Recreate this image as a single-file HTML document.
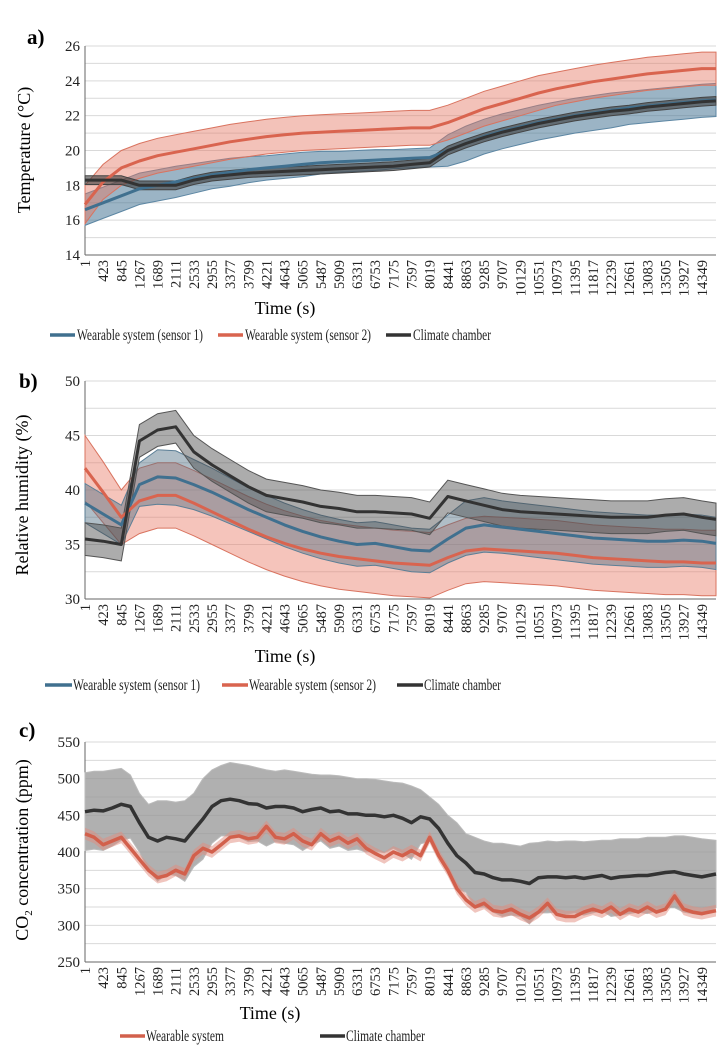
<!DOCTYPE html>
<html><head><meta charset="utf-8">
<style>
body{margin:0;background:#fff;}
svg{display:block;font-family:"Liberation Serif",serif;}
</style></head>
<body>
<svg id="fig" width="728" height="1047" viewBox="0 0 728 1047"></svg>
<script>
// ---------- DATA ----------
const timesAB = [1,423,845,1267,1689,2111,2533,2955,3377,3799,4221,4643,5065,5487,5909,6331,6753,7175,7597,8019,8441,8863,9285,9707,10129,10551,10973,11395,11817,12239,12661,13083,13505,13927,14349,14680];
const tickLabels = [1,423,845,1267,1689,2111,2533,2955,3377,3799,4221,4643,5065,5487,5909,6331,6753,7175,7597,8019,8441,8863,9285,9707,10129,10551,10973,11395,11817,12239,12661,13083,13505,13927,14349];

const tempS1 = [16.6,17.0,17.4,17.8,18.0,18.2,18.4,18.6,18.75,18.9,19.0,19.1,19.2,19.3,19.35,19.4,19.45,19.5,19.55,19.6,20.0,20.4,20.8,21.1,21.35,21.6,21.8,22.0,22.15,22.3,22.45,22.55,22.65,22.75,22.85,22.9];
const tempS1sd = [0.9,0.9,0.9,0.9,0.9,0.9,0.85,0.8,0.8,0.75,0.7,0.7,0.7,0.65,0.6,0.6,0.6,0.55,0.55,0.55,0.9,1.0,1.0,1.0,1.0,1.0,1.0,1.0,1.0,1.0,0.95,0.95,0.95,0.95,0.95,0.95];
const tempS2 = [16.9,18.2,19.0,19.4,19.7,19.9,20.1,20.3,20.5,20.65,20.8,20.9,21.0,21.05,21.1,21.15,21.2,21.25,21.3,21.3,21.6,22.0,22.4,22.7,23.0,23.3,23.55,23.75,23.95,24.1,24.25,24.4,24.5,24.6,24.7,24.7];
const tempS2sd = [1.1,1.0,1.0,1.0,1.0,1.0,1.0,1.0,1.0,1.0,1.0,1.0,1.0,1.0,1.0,1.0,1.0,1.0,1.0,1.0,1.0,1.0,1.0,1.0,1.0,1.0,0.95,0.95,0.95,0.95,0.95,0.95,0.95,0.95,0.95,0.95];
const tempCC = [18.3,18.3,18.3,18.0,18.0,18.0,18.3,18.5,18.6,18.7,18.75,18.8,18.85,18.9,18.95,19.0,19.05,19.1,19.2,19.3,20.0,20.4,20.75,21.05,21.3,21.55,21.75,21.95,22.1,22.25,22.35,22.5,22.6,22.7,22.8,22.85];
const tempCCsd = [0.25,0.25,0.25,0.25,0.25,0.25,0.25,0.25,0.25,0.25,0.25,0.25,0.25,0.25,0.25,0.25,0.25,0.25,0.25,0.25,0.25,0.25,0.25,0.25,0.25,0.25,0.25,0.25,0.25,0.25,0.25,0.25,0.25,0.25,0.25,0.25];

const rhS1 = [38.8,37.8,36.8,40.5,41.2,41.1,40.5,39.8,39.0,38.2,37.5,36.8,36.2,35.7,35.3,35.0,35.1,34.8,34.5,34.4,35.5,36.5,36.8,36.6,36.4,36.2,36.0,35.8,35.6,35.5,35.4,35.3,35.3,35.4,35.3,35.1];
const rhS1sd = [1.8,1.8,1.8,2.0,2.5,2.5,2.3,2.2,2.1,2.0,2.0,2.0,2.0,2.0,2.0,2.0,2.0,2.0,2.0,2.0,2.2,2.5,2.5,2.4,2.4,2.4,2.4,2.4,2.4,2.4,2.4,2.4,2.4,2.4,2.4,2.4];
const rhS2 = [42.0,39.8,37.5,39.0,39.5,39.5,38.8,38.0,37.2,36.4,35.7,35.1,34.6,34.2,33.9,33.7,33.5,33.3,33.2,33.1,33.8,34.4,34.6,34.5,34.4,34.3,34.2,34.0,33.8,33.7,33.6,33.5,33.4,33.4,33.3,33.3];
const rhS2sd = [3.0,2.8,2.5,3.0,3.0,3.0,3.0,3.0,3.0,3.0,3.0,3.0,3.0,3.0,3.0,3.0,3.0,3.0,3.0,3.0,3.0,3.0,3.0,3.0,3.0,3.0,3.0,3.0,3.0,3.0,3.0,3.0,3.0,3.0,3.0,3.0];
const rhCC = [35.5,35.3,35.0,44.5,45.5,45.8,43.5,42.3,41.3,40.3,39.5,39.2,38.9,38.5,38.3,38.0,38.0,37.9,37.8,37.4,39.4,39.0,38.6,38.2,38.0,37.9,37.8,37.7,37.6,37.5,37.5,37.5,37.7,37.8,37.5,37.3];
const rhCCsd = [1.5,1.5,1.5,1.5,1.5,1.5,1.5,1.5,1.5,1.5,1.5,1.5,1.5,1.5,1.5,1.5,1.5,1.5,1.5,1.5,1.5,1.5,1.5,1.5,1.5,1.5,1.5,1.5,1.5,1.5,1.5,1.5,1.5,1.5,1.5,1.5];

const timesC = [1,212,423,634,845,1056,1267,1478,1689,1900,2111,2322,2533,2744,2955,3166,3377,3588,3799,4010,4221,4432,4643,4854,5065,5276,5487,5698,5909,6120,6331,6542,6753,6964,7175,7386,7597,7808,8019,8230,8441,8652,8863,9074,9285,9496,9707,9918,10129,10340,10551,10762,10973,11184,11395,11606,11817,12028,12239,12450,12661,12872,13083,13294,13505,13716,13927,14138,14349,14680];
const co2CC = [455,457,456,460,465,462,440,420,415,420,418,415,430,445,462,470,472,470,466,465,460,462,462,460,455,458,460,455,456,452,452,450,450,448,450,446,440,448,445,432,412,395,385,372,370,365,362,362,360,357,365,366,366,365,366,364,366,368,364,366,367,368,368,370,372,373,370,368,366,370];
const co2CCupper = [508,510,510,512,514,505,480,465,470,470,468,470,480,500,512,518,522,520,518,515,512,510,512,510,508,506,505,505,504,502,500,500,499,497,495,494,490,485,475,465,450,440,425,420,415,412,412,410,408,412,413,415,414,415,415,414,415,416,416,418,418,418,420,420,420,422,422,420,418,416];
const co2W = [425,420,410,415,420,405,390,375,365,368,375,370,395,405,400,410,420,422,418,420,435,420,418,425,415,410,425,415,420,412,418,405,398,392,400,395,402,395,420,395,375,350,335,325,330,320,318,322,315,310,318,330,315,312,312,318,322,318,325,315,322,318,325,318,322,340,322,318,316,320];
const co2Wsd = [8,8,8,8,8,8,8,8,8,8,8,8,8,8,8,8,8,8,8,8,8,8,8,8,8,8,8,8,8,8,8,8,8,8,8,8,8,8,8,8,8,8,8,8,8,8,8,8,8,8,8,8,8,8,8,8,8,8,8,8,8,8,8,8,8,8,8,8,8,8];

// ---------- DRAWING ----------
const NS = "http://www.w3.org/2000/svg";
const svg = document.getElementById('fig');
const X0 = 85, X1 = 716, TMAX = 14680;
function xs(t){ return X0 + (t-1)/(TMAX-1)*(X1-X0); }
function mk(tag, attrs, parent){
  const e = document.createElementNS(NS, tag);
  for (const k in attrs) e.setAttribute(k, attrs[k]);
  (parent||svg).appendChild(e);
  return e;
}
function makeY(p){ return v => p.bottom - (v-p.min)/(p.max-p.min)*(p.bottom-p.top); }

function band(times, lo, hi, ys, fill, stroke, name){
  let d = "M";
  for (let i=0;i<times.length;i++) d += (i?"L":"") + xs(times[i]).toFixed(1)+","+ys(hi[i]).toFixed(1);
  for (let i=times.length-1;i>=0;i--) d += "L"+xs(times[i]).toFixed(1)+","+ys(lo[i]).toFixed(1);
  d += "Z";
  const e = mk('path',{d:d,fill:fill,stroke:stroke,'stroke-width':1});
  
  
}
function line(times, vals, ys, color, w, name){
  const pts = times.map((t,i)=>xs(t).toFixed(1)+","+ys(vals[i]).toFixed(1)).join(" ");
  const e = mk('polyline',{points:pts,fill:'none',stroke:color,'stroke-width':w,'stroke-linejoin':'round'});
  
  
}
function axes(p){
  const ys = makeY(p);
  for (let v=p.min; v<=p.max+1e-9; v+=p.grid){
    const g = mk('line',{x1:X0,x2:X1,y1:ys(v),y2:ys(v),stroke:'#d9d9d9','stroke-width':1});
    
    
  }
  for (let v=p.min; v<=p.max+1e-9; v+=p.step){
    const t = mk('text',{x:80,y:ys(v)+5,'text-anchor':'end','font-size':15,fill:'#222'});
    t.textContent = v;
    
    
  }
  const ax = mk('line',{x1:X0,x2:X0,y1:p.top,y2:p.bottom,stroke:'#666','stroke-width':1});
  
  
  const bx = mk('line',{x1:X0,x2:X1,y1:p.bottom,y2:p.bottom,stroke:'#666','stroke-width':1});
  
  
  tickLabels.forEach(tl=>{
    const x = xs(tl)+5;
    const y = p.bottom+5;
    const t = mk('text',{x:x,y:y,'text-anchor':'end','font-size':14.5,fill:'#222',transform:`rotate(-90 ${x} ${y})`});
    t.textContent = tl;
    
    
  });
  return ys;
}
function txt(s, attrs, name){
  const t = mk('text', attrs);
  t.textContent = s;
  
  
  return t;
}
function legendItem(x1,x2,y,color,label,tx,tw,name){
  const l = mk('line',{x1:x1,x2:x2,y1:y-5,y2:y-5,stroke:color,'stroke-width':3.5});
  
  
  const t = mk('text',{x:tx,y:y,'font-size':16,fill:'#222',textLength:tw,lengthAdjust:'spacingAndGlyphs'});
  t.textContent = label;
  
  
}
function lohi(m, sd){ return [m.map((v,i)=>v-sd[i]), m.map((v,i)=>v+sd[i])]; }

const BLUE = '#40708f', RED = '#d9644f', BLACK = '#333333';

// Panel a
const pa = {top:46, bottom:255, min:14, max:26, step:2, grid:1};
let ya = axes(pa);
let b;
b = lohi(tempS1,tempS1sd); band(timesAB,b[0],b[1],ya,'rgba(72,118,150,0.55)','#5c86a3','temp-s1-band');
b = lohi(tempS2,tempS2sd); band(timesAB,b[0],b[1],ya,'rgba(228,120,100,0.45)','#d9735f','temp-s2-band');
b = lohi(tempCC,tempCCsd); band(timesAB,b[0],b[1],ya,'rgba(60,60,60,0.6)','#444','temp-cc-band');
line(timesAB,tempS1,ya,BLUE,3,'temp-sensor1-line');
line(timesAB,tempS2,ya,RED,3,'temp-sensor2-line');
line(timesAB,tempCC,ya,BLACK,3,'temp-chamber-line');
txt('a)',{x:27,y:44,'font-size':21,'font-weight':'bold'},'panel-a-label');
txt('Temperature (°C)',{x:0,y:0,'font-size':18,'text-anchor':'middle',transform:'translate(30 150) rotate(-90)'},'y-axis-title-a');
txt('Time (s)',{x:285,y:314,'font-size':18,'text-anchor':'middle'},'x-axis-title-a');
legendItem(50,75,340,BLUE,'Wearable system (sensor 1)',77,126,'legend-a-sensor1');
legendItem(218,243,340,RED,'Wearable system (sensor 2)',245,126,'legend-a-sensor2');
legendItem(386,411,340,BLACK,'Climate chamber',413,78,'legend-a-chamber');

// Panel b
const pb = {top:381, bottom:599, min:30, max:50, step:5, grid:2.5};
let yb = axes(pb);
b = lohi(rhS2,rhS2sd); band(timesAB,b[0],b[1],yb,'rgba(232,125,105,0.45)','#d9735f','rh-s2-band');
b = lohi(rhS1,rhS1sd); band(timesAB,b[0],b[1],yb,'rgba(80,110,130,0.45)','#5c7f96','rh-s1-band');
b = lohi(rhCC,rhCCsd); band(timesAB,b[0],b[1],yb,'rgba(70,70,70,0.45)','#555','rh-cc-band');
line(timesAB,rhS1,yb,BLUE,3,'rh-sensor1-line');
line(timesAB,rhS2,yb,RED,3,'rh-sensor2-line');
line(timesAB,rhCC,yb,BLACK,3,'rh-chamber-line');
txt('b)',{x:19,y:388,'font-size':21,'font-weight':'bold'},'panel-b-label');
txt('Relative humidity  (%)',{x:0,y:0,'font-size':18,'text-anchor':'middle',transform:'translate(28 495) rotate(-90)'},'y-axis-title-b');
txt('Time (s)',{x:285,y:662,'font-size':18,'text-anchor':'middle'},'x-axis-title-b');
legendItem(45,72,690,BLUE,'Wearable system (sensor 1)',73,127,'legend-b-sensor1');
legendItem(222,248,690,RED,'Wearable system (sensor 2)',249,127,'legend-b-sensor2');
legendItem(397,423,690,BLACK,'Climate chamber',424,77,'legend-b-chamber');

// Panel c
const pc = {top:742, bottom:962, min:250, max:550, step:50, grid:25};
let yc = axes(pc);
const co2CCsd = co2CCupper.map((u,i)=>u-co2CC[i]);
b = lohi(co2CC,co2CCsd); band(timesC,b[0],b[1],yc,'rgba(150,150,150,0.75)','#bbb','co2-cc-band');
b = lohi(co2W,co2Wsd); band(timesC,b[0],b[1],yc,'rgba(225,140,125,0.5)','none','co2-w-band');
line(timesC,co2CC,yc,BLACK,3.5,'co2-chamber-line');
line(timesC,co2W,yc,'#d2604c',3.5,'co2-wearable-line');
txt('c)',{x:19,y:737,'font-size':21,'font-weight':'bold'},'panel-c-label');
const ct = txt('',{x:0,y:0,'font-size':18,'text-anchor':'middle',transform:'translate(28 850) rotate(-90)'},'y-axis-title-c');
ct.innerHTML = 'CO<tspan font-size="11" dy="4">2</tspan><tspan dy="-4"> concentration (ppm)</tspan>';
txt('Time (s)',{x:270,y:1019,'font-size':18,'text-anchor':'middle'},'x-axis-title-c');
legendItem(120,145,1041,'#d2604c','Wearable system',146,78,'legend-c-wearable');
legendItem(320,345,1041,BLACK,'Climate chamber',346,79,'legend-c-chamber');
</script>
</body></html>
